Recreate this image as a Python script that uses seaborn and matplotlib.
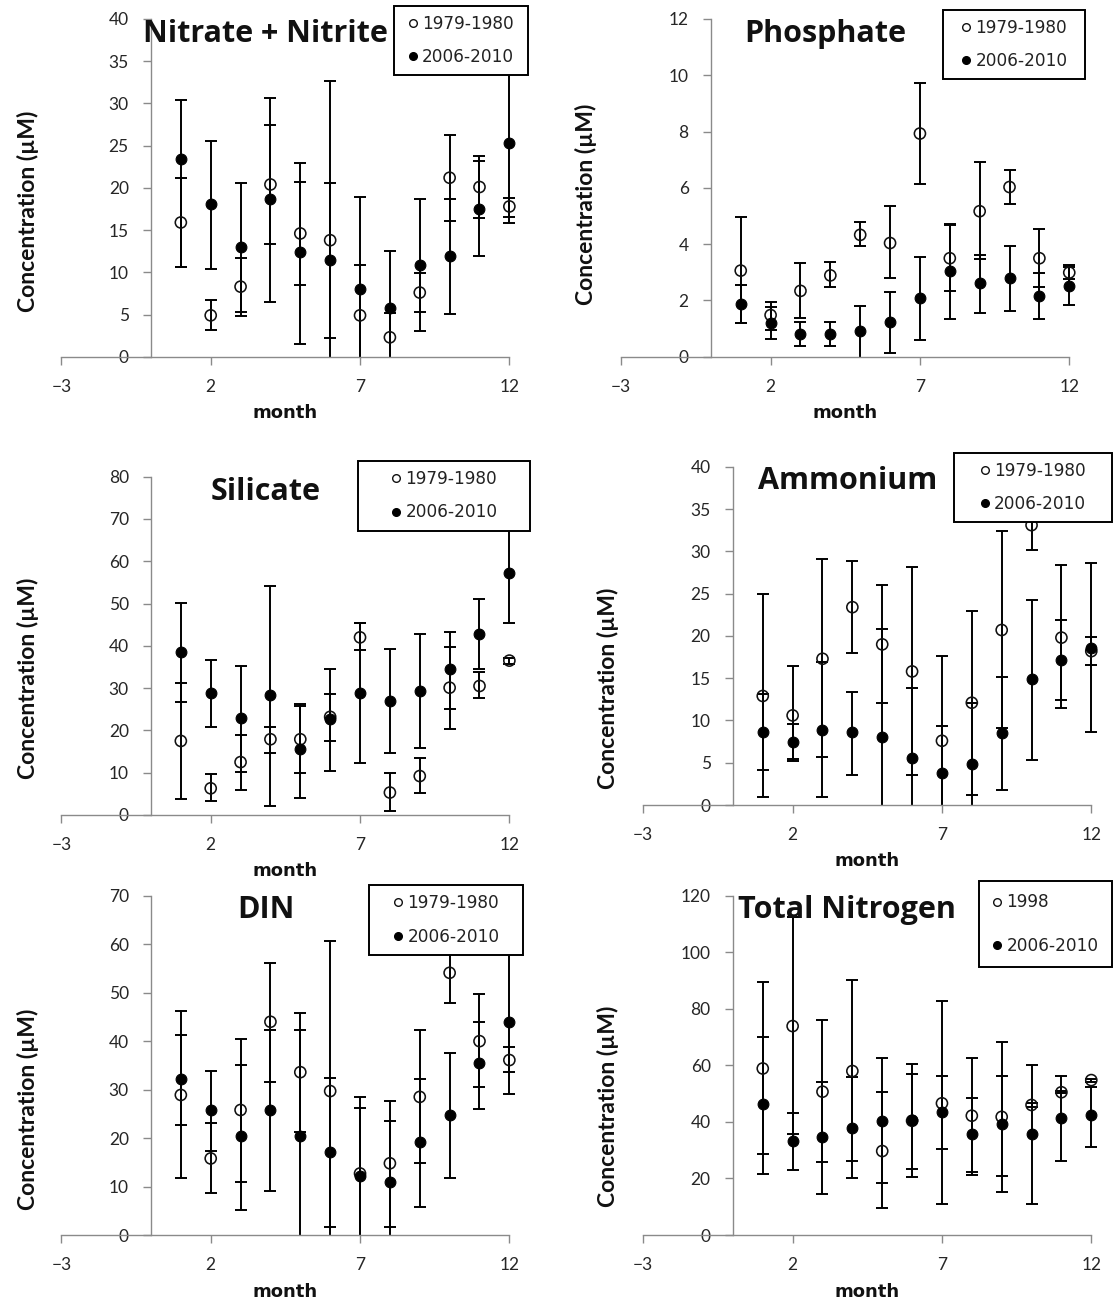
import numpy as np
import pandas as pd
import matplotlib
matplotlib.use("Agg")
import matplotlib.pyplot as plt
import seaborn as sns
from matplotlib.lines import Line2D
from matplotlib.patches import Rectangle

months = list(range(1, 13))
x_ticks = [-3, 2, 7, 12]

# ---- Nitrate + Nitrite ----
no3_old = [15.9, 4.9, 8.3, 20.4, 14.6, 13.8, 4.9, 2.3, 7.6, 21.2, 20.1, 17.8]
no3_old_lo = [10.6, 3.2, 4.8, 13.4, 8.5, 2.2, -1.1, -0.6, 5.3, 16.1, 16.4, 16.6]
no3_old_hi = [21.2, 6.7, 11.7, 27.4, 20.7, 20.6, 10.9, 5.2, 9.9, 26.3, 23.8, 18.8]
no3_new = [23.4, 18.1, 13.0, 18.7, 12.4, 11.4, 8.0, 5.8, 10.9, 11.9, 17.5, 25.3]
no3_new_lo = [10.6, 10.4, 5.3, 6.5, 1.5, -9.9, -2.8, -0.9, 3.0, 5.1, 11.9, 15.8]
no3_new_hi = [30.4, 25.6, 20.6, 30.6, 23.0, 32.7, 18.9, 12.5, 18.7, 18.7, 23.2, 34.8]

# ---- Phosphate ----
po4_old = [3.06, 1.48, 2.34, 2.89, 4.33, 4.04, 7.93, 3.50, 5.17, 6.03, 3.50, 2.99]
po4_old_lo = [1.19, 0.95, 1.37, 2.47, 3.92, 2.79, 6.15, 2.35, 3.47, 5.42, 2.46, 2.75]
po4_old_hi = [4.96, 1.96, 3.32, 3.36, 4.77, 5.34, 9.74, 4.67, 6.91, 6.65, 4.54, 3.27]
po4_new = [1.88, 1.21, 0.82, 0.82, 0.91, 1.25, 2.08, 3.05, 2.61, 2.81, 2.17, 2.52]
po4_new_lo = [1.20, 0.62, 0.38, 0.38, -0.05, 0.14, 0.59, 1.34, 1.54, 1.63, 1.34, 1.84]
po4_new_hi = [2.55, 1.78, 1.25, 1.22, 1.82, 2.29, 3.56, 4.70, 3.62, 3.94, 2.99, 3.20]

# ---- Silicate ----
si_old = [17.5, 6.3, 12.5, 17.9, 17.9, 23.2, 42.0, 5.3, 9.2, 30.1, 30.5, 36.5]
si_old_lo = [3.7, 3.2, 5.9, 14.7, 9.9, 17.6, 39.0, 0.9, 5.1, 20.3, 27.7, 35.8]
si_old_hi = [31.1, 9.6, 18.9, 20.9, 25.8, 28.5, 45.5, 9.9, 13.4, 39.8, 33.9, 37.2]
si_new = [38.6, 28.9, 22.9, 28.4, 15.5, 22.6, 28.9, 27.0, 29.3, 34.4, 42.8, 57.3]
si_new_lo = [26.6, 20.9, 10.2, 2.1, 4.1, 10.5, 12.4, 14.7, 15.8, 25.0, 34.5, 45.3]
si_new_hi = [50.2, 36.6, 35.3, 54.1, 26.2, 34.4, 45.4, 39.2, 42.8, 43.3, 51.1, 69.3]

# ---- Ammonium ----
nh4_old = [12.9, 10.6, 17.3, 23.4, 19.0, 15.8, 7.6, 12.1, 20.7, 33.1, 19.8, 18.2]
nh4_old_lo = [0.9, 5.2, 5.7, 18.0, 12.1, 3.6, -2.4, 1.2, 9.1, 30.2, 11.5, 16.6]
nh4_old_hi = [25.0, 16.4, 29.1, 28.9, 26.0, 28.1, 17.6, 22.9, 32.4, 36.0, 28.4, 19.9]
nh4_new = [8.6, 7.5, 8.9, 8.6, 8.0, 5.6, 3.8, 4.9, 8.5, 14.9, 17.1, 18.6]
nh4_new_lo = [4.1, 5.5, 0.9, 3.6, -4.8, -2.6, -1.7, -2.3, 1.8, 5.3, 12.4, 8.6]
nh4_new_hi = [13.1, 9.6, 16.9, 13.4, 20.8, 13.8, 9.3, 12.1, 15.1, 24.2, 21.9, 28.6]

# ---- DIN ----
din_old = [28.9, 15.8, 25.8, 44.0, 33.6, 29.7, 12.7, 14.8, 28.5, 54.1, 40.0, 36.1]
din_old_lo = [11.8, 8.6, 11.0, 31.6, 21.3, -1.3, -3.1, 1.6, 14.8, 47.8, 30.6, 33.6]
din_old_hi = [46.3, 23.2, 40.4, 56.2, 45.9, 60.7, 28.5, 27.7, 42.3, 60.4, 49.7, 38.7]
din_new = [32.1, 25.8, 20.4, 25.8, 20.4, 17.1, 12.2, 11.0, 19.1, 24.8, 35.4, 43.9]
din_new_lo = [22.7, 17.4, 5.2, 9.1, -1.5, 1.6, -1.9, -1.6, 5.8, 11.8, 26.1, 29.2]
din_new_hi = [41.3, 33.9, 35.1, 42.3, 42.3, 32.5, 26.3, 23.6, 32.2, 37.6, 44.0, 58.6]

# ---- Total Nitrogen ----
tn_old = [58.9, 73.9, 50.7, 58.0, 29.7, 40.4, 46.6, 42.2, 41.8, 46.0, 50.5, 54.8]
tn_old_lo = [28.6, 35.6, 25.9, 26.3, 9.4, 20.6, 11.0, 21.2, 15.3, 45.2, 50.2, 54.3]
tn_old_hi = [89.4, 112.5, 76.0, 90.2, 50.5, 60.5, 82.9, 62.5, 68.1, 46.8, 50.8, 55.3]
tn_new = [46.2, 33.2, 34.5, 38.0, 40.4, 40.7, 43.4, 35.6, 39.1, 35.6, 41.5, 42.4]
tn_new_lo = [21.6, 23.0, 14.4, 20.0, 18.3, 23.5, 30.3, 22.4, 21.0, 11.0, 26.3, 31.2]
tn_new_hi = [70.1, 43.3, 54.2, 56.0, 62.5, 56.8, 56.2, 48.6, 56.2, 60.1, 56.2, 52.2]

titles = ["Nitrate + Nitrite", "Phosphate", "Silicate", "Ammonium", "DIN", "Total Nitrogen"]
old_labels = ["1979-1980", "1979-1980", "1979-1980", "1979-1980", "1979-1980", "1998"]
new_label = "2006-2010"
y_max = [40, 12, 80, 40, 70, 120]
y_step = [5, 2, 10, 5, 10, 20]

sns.set_theme(style="ticks")
plt.rcParams['font.family'] = ['Lato', 'DejaVu Sans']

panels = [
    dict(old=(no3_old, no3_old_lo, no3_old_hi), new=(no3_new, no3_new_lo, no3_new_hi),
         rect=[0.0549, 0.7258, 0.4007, 0.2596], leg=(0.7424, 0.8333, 0.2991, 0.2061),
         title_y=0.9328, ylab_y=0.430, ylab_x=-0.050, lsp=0.9),
    dict(old=(po4_old, po4_old_lo, po4_old_hi), new=(po4_new, po4_new_lo, po4_new_hi),
         rect=[0.5557, 0.7258, 0.4007, 0.2596], leg=(0.7188, 0.8214, 0.3163, 0.2053),
         title_y=0.9328, ylab_y=0.450, ylab_x=-0.054, lsp=0.9),
    dict(old=(si_old, si_old_lo, si_old_hi), new=(si_new, si_new_lo, si_new_hi),
         rect=[0.0549, 0.3736, 0.4007, 0.2600], leg=(0.6627, 0.8404, 0.3833, 0.2060),
         title_y=0.9311, ylab_y=0.405, ylab_x=-0.050, lsp=0.9),
    dict(old=(nh4_old, nh4_old_lo, nh4_old_hi), new=(nh4_new, nh4_new_lo, nh4_new_hi),
         rect=[0.5754, 0.3812, 0.4007, 0.2600], leg=(0.6935, 0.8357, 0.3520, 0.2057),
         title_y=0.9332, ylab_y=0.345, ylab_x=-0.054, lsp=0.92),
    dict(old=(din_old, din_old_lo, din_old_hi), new=(din_new, din_new_lo, din_new_hi),
         rect=[0.0549, 0.0507, 0.4007, 0.2608], leg=(0.6873, 0.8261, 0.3438, 0.2054),
         title_y=0.9334, ylab_y=0.371, ylab_x=-0.050, lsp=0.92),
    dict(old=(tn_old, tn_old_lo, tn_old_hi), new=(tn_new, tn_new_lo, tn_new_hi),
         rect=[0.5754, 0.0507, 0.4007, 0.2608], leg=(0.7493, 0.7890, 0.2962, 0.2543),
         title_y=0.9334, ylab_y=0.380, ylab_x=-0.054, lsp=1.5),
]

fig = plt.figure(figsize=(11.18, 13.01), dpi=100)
fig.patch.set_facecolor("white")

spine_col = "#8a8a8a"
for i, p in enumerate(panels):
    ax = fig.add_axes(p["rect"])
    ax.set_facecolor("white")
    # clip region: full height above the x axis, a little wider than the axes
    clip_rect = Rectangle((-0.05, 0.0), 1.1, 1.5, transform=ax.transAxes)
    # error bars
    for key in ("old", "new"):
        v, lo, hi = (np.asarray(a, dtype=float) for a in p[key])
        cont = ax.errorbar(months, v, yerr=[v - lo, hi - v], fmt="none", ecolor="black",
                           elinewidth=1.4, capsize=4.6, capthick=1.4, zorder=2)
        for art in cont.get_children():
            art.set_clip_path(clip_rect)
    df_old = pd.DataFrame({"month": months, "value": p["old"][0]})
    df_new = pd.DataFrame({"month": months, "value": p["new"][0]})
    sns.scatterplot(data=df_old, x="month", y="value", ax=ax, marker="o", s=64,
                    facecolor="none", edgecolor="#111111", linewidth=1.15, zorder=3,
                    clip_on=False)
    sns.scatterplot(data=df_new, x="month", y="value", ax=ax, marker="o", s=60,
                    color="black", edgecolor="black", linewidth=0.8, zorder=4,
                    clip_on=False)

    ax.set_xlim(-3, 12)
    ax.set_ylim(0, y_max[i])
    ax.set_xticks(x_ticks)
    ax.set_yticks(np.arange(0, y_max[i] + 0.001, y_step[i]))
    ax.spines["left"].set_position(("data", 0))
    ax.spines["top"].set_visible(False)
    ax.spines["right"].set_visible(False)
    for s in ("left", "bottom"):
        ax.spines[s].set_color(spine_col)
        ax.spines[s].set_linewidth(1.0)
    ax.tick_params(axis="both", direction="out", length=5.5, width=1.0, color=spine_col,
                   labelsize=12.5, labelcolor="#262626", pad=10.5)

    ax.set_xlabel("month", fontsize=13, fontweight="bold", family="DejaVu Sans", color="#111111")
    ax.xaxis.set_label_coords(0.5, -0.140)
    ax.set_ylabel("Concentration (µM)", fontsize=16.5, fontweight="bold", color="#111111")
    ax.yaxis.set_label_coords(p["ylab_x"], p["ylab_y"])

    ax.text(0.4556, p["title_y"], titles[i], transform=ax.transAxes, ha="center",
            va="baseline", fontsize=22, fontweight="bold", family=["Open Sans", "DejaVu Sans"],
            color="#111111", zorder=6)

    lx, ly, lw, lh = p["leg"]
    box = Rectangle((lx, ly), lw, lh, transform=ax.transAxes, facecolor="white",
                    edgecolor="black", linewidth=1.4, clip_on=False, zorder=5)
    ax.add_patch(box)
    handles = [
        Line2D([], [], marker="o", ls="none", mfc="none", mec="#111111", ms=5.5, mew=1.0),
        Line2D([], [], marker="o", ls="none", mfc="black", mec="black", ms=5.5, mew=1.0),
    ]
    leg = ax.legend(handles, [old_labels[i], new_label], loc="center",
                    bbox_to_anchor=(lx, ly, lw, lh), bbox_transform=ax.transAxes,
                    frameon=False, prop={"family": "DejaVu Sans", "size": 12.2},
                    labelspacing=p["lsp"], handlelength=0.6, handletextpad=0.25,
                    borderpad=0.0, borderaxespad=0.0)
    leg.set_zorder(7)
    for t in leg.get_texts():
        t.set_color("#222222")

fig.savefig("out.png", dpi=100, facecolor="white")
